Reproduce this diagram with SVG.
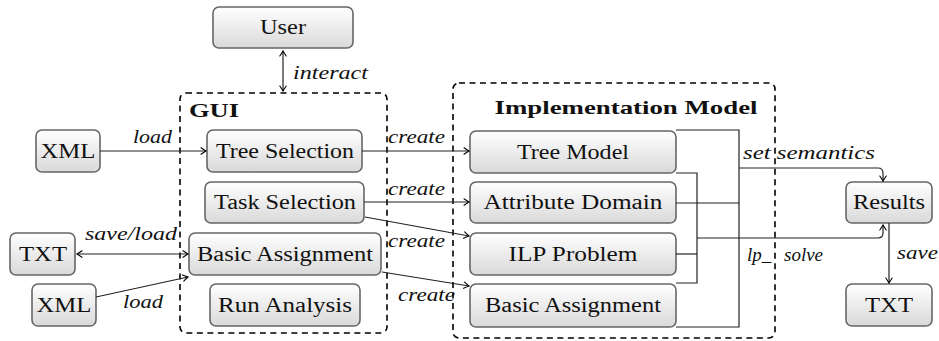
<svg xmlns="http://www.w3.org/2000/svg" width="939" height="341" viewBox="0 0 939 341" font-family="Liberation Serif, DejaVu Serif, serif">
<defs>
<linearGradient id="g" x1="0" y1="0" x2="0" y2="1">
<stop offset="0" stop-color="#ffffff"/>
<stop offset="1" stop-color="#d9d9d9"/>
</linearGradient>
<marker id="ah" viewBox="-6 -4 8 8" markerWidth="8" markerHeight="8" refX="0" refY="0" orient="auto-start-reverse" markerUnits="userSpaceOnUse">
<path d="M-5,-3.2 Q-1.5,-0.8 0,0 Q-1.5,0.8 -5,3.2" fill="none" stroke="#000" stroke-width="1.1" stroke-linecap="round"/>
</marker>
</defs>
<style>
.box{fill:url(#g);stroke:#666;stroke-width:1.6}
.t{font-size:20px;fill:#111;text-anchor:middle}
.lbl{font-style:italic;font-size:19px;fill:#111}
.bold{font-weight:bold;font-size:19px;fill:#111}
.dash{fill:none;stroke:#000;stroke-width:1.6;stroke-dasharray:6 4.5}
.c{fill:none;stroke:#222;stroke-width:1.2}
.a{fill:none;stroke:#222;stroke-width:1.2;marker-end:url(#ah)}
.aa{fill:none;stroke:#222;stroke-width:1.2;marker-end:url(#ah);marker-start:url(#ah)}
</style>

<g id="gui-container">
<rect class="dash" x="180" y="93" width="207" height="240" rx="6"/>
<text class="bold" x="189" y="117" textLength="50" lengthAdjust="spacingAndGlyphs">GUI</text>
</g>
<g id="impl-container">
<rect class="dash" x="453" y="83" width="322" height="255" rx="6"/>
<text class="bold" x="626" y="114" text-anchor="middle" textLength="263" lengthAdjust="spacingAndGlyphs">Implementation Model</text>
</g>

<g id="user"><rect class="box" x="213" y="7" width="140" height="41" rx="6"/><text class="t" x="283" y="34" textLength="46" lengthAdjust="spacingAndGlyphs">User</text></g>
<g id="xml1"><rect class="box" x="36" y="130" width="64" height="42" rx="6"/><text class="t" x="68" y="158" textLength="55" lengthAdjust="spacingAndGlyphs">XML</text></g>
<g id="tree-selection"><rect class="box" x="207" y="130" width="155" height="42" rx="6"/><text class="t" x="285" y="158" textLength="138" lengthAdjust="spacingAndGlyphs">Tree Selection</text></g>
<g id="task-selection"><rect class="box" x="205" y="182" width="159" height="41" rx="6"/><text class="t" x="285" y="209" textLength="142" lengthAdjust="spacingAndGlyphs">Task Selection</text></g>
<g id="basic-assignment-gui"><rect class="box" x="189" y="233" width="192" height="42" rx="6"/><text class="t" x="285" y="261" textLength="176" lengthAdjust="spacingAndGlyphs">Basic Assignment</text></g>
<g id="run-analysis"><rect class="box" x="210" y="284" width="150" height="42" rx="6"/><text class="t" x="285" y="312" textLength="134" lengthAdjust="spacingAndGlyphs">Run Analysis</text></g>
<g id="txt1"><rect class="box" x="10" y="233" width="65" height="42" rx="6"/><text class="t" x="43" y="261" textLength="48" lengthAdjust="spacingAndGlyphs">TXT</text></g>
<g id="xml2"><rect class="box" x="32" y="284" width="64" height="42" rx="6"/><text class="t" x="64" y="312" textLength="55" lengthAdjust="spacingAndGlyphs">XML</text></g>

<g id="tree-model"><rect class="box" x="470" y="131" width="206" height="42" rx="6"/><text class="t" x="573" y="159" textLength="112" lengthAdjust="spacingAndGlyphs">Tree Model</text></g>
<g id="attribute-domain"><rect class="box" x="470" y="182" width="206" height="41" rx="6"/><text class="t" x="573" y="209" textLength="179" lengthAdjust="spacingAndGlyphs">Attribute Domain</text></g>
<g id="ilp-problem"><rect class="box" x="470" y="233" width="206" height="42" rx="6"/><text class="t" x="573" y="261" textLength="129" lengthAdjust="spacingAndGlyphs">ILP Problem</text></g>
<g id="basic-assignment-impl"><rect class="box" x="470" y="284" width="206" height="43" rx="6"/><text class="t" x="573" y="312" textLength="176" lengthAdjust="spacingAndGlyphs">Basic Assignment</text></g>

<g id="results"><rect class="box" x="846" y="182" width="86" height="41" rx="6"/><text class="t" x="889" y="209" textLength="72" lengthAdjust="spacingAndGlyphs">Results</text></g>
<g id="txt2"><rect class="box" x="846" y="284" width="86" height="42" rx="6"/><text class="t" x="889" y="312" textLength="48" lengthAdjust="spacingAndGlyphs">TXT</text></g>

<g id="connectors">
<path class="aa" d="M283,51 V91"/>
<text class="lbl" x="293" y="79" textLength="75" lengthAdjust="spacingAndGlyphs">interact</text>

<path class="a" d="M100,151 H206"/>
<text class="lbl" x="133" y="143" textLength="39" lengthAdjust="spacingAndGlyphs">load</text>

<path class="aa" d="M77,254 H188"/>
<text class="lbl" x="85" y="240" textLength="92" lengthAdjust="spacingAndGlyphs">save/load</text>

<path class="a" d="M96,297 L188,277"/>
<text class="lbl" x="123" y="308" textLength="40" lengthAdjust="spacingAndGlyphs">load</text>

<path class="a" d="M362,151 H469"/>
<text class="lbl" x="388" y="143" textLength="57" lengthAdjust="spacingAndGlyphs">create</text>
<path class="a" d="M364,202 H469"/>
<text class="lbl" x="388" y="195" textLength="57" lengthAdjust="spacingAndGlyphs">create</text>
<path class="a" d="M365,217 L469,236"/>
<text class="lbl" x="388" y="247" textLength="57" lengthAdjust="spacingAndGlyphs">create</text>
<path class="a" d="M382,272 L469,286"/>
<text class="lbl" x="398" y="301" textLength="57" lengthAdjust="spacingAndGlyphs">create</text>

<path class="c" d="M676,130 H739 V327 H676"/>
<path class="c" d="M676,203 H739"/>
<path class="c" d="M676,173 H697 V283 H676"/>
<path class="c" d="M676,254 H697"/>
<path class="a" d="M739,168 H878 Q883,168 883,173 V181"/>
<text class="lbl" x="743" y="159" textLength="132" lengthAdjust="spacingAndGlyphs">set semantics</text>
<path class="a" d="M697,238 H878 Q883,238 883,233 V225"/>
<text class="lbl" x="747" y="261">lp_<tspan x="784">solve</tspan></text>

<path class="a" d="M889,223 V283"/>
<text class="lbl" x="897" y="259" textLength="41" lengthAdjust="spacingAndGlyphs">save</text>
</g>
</svg>
